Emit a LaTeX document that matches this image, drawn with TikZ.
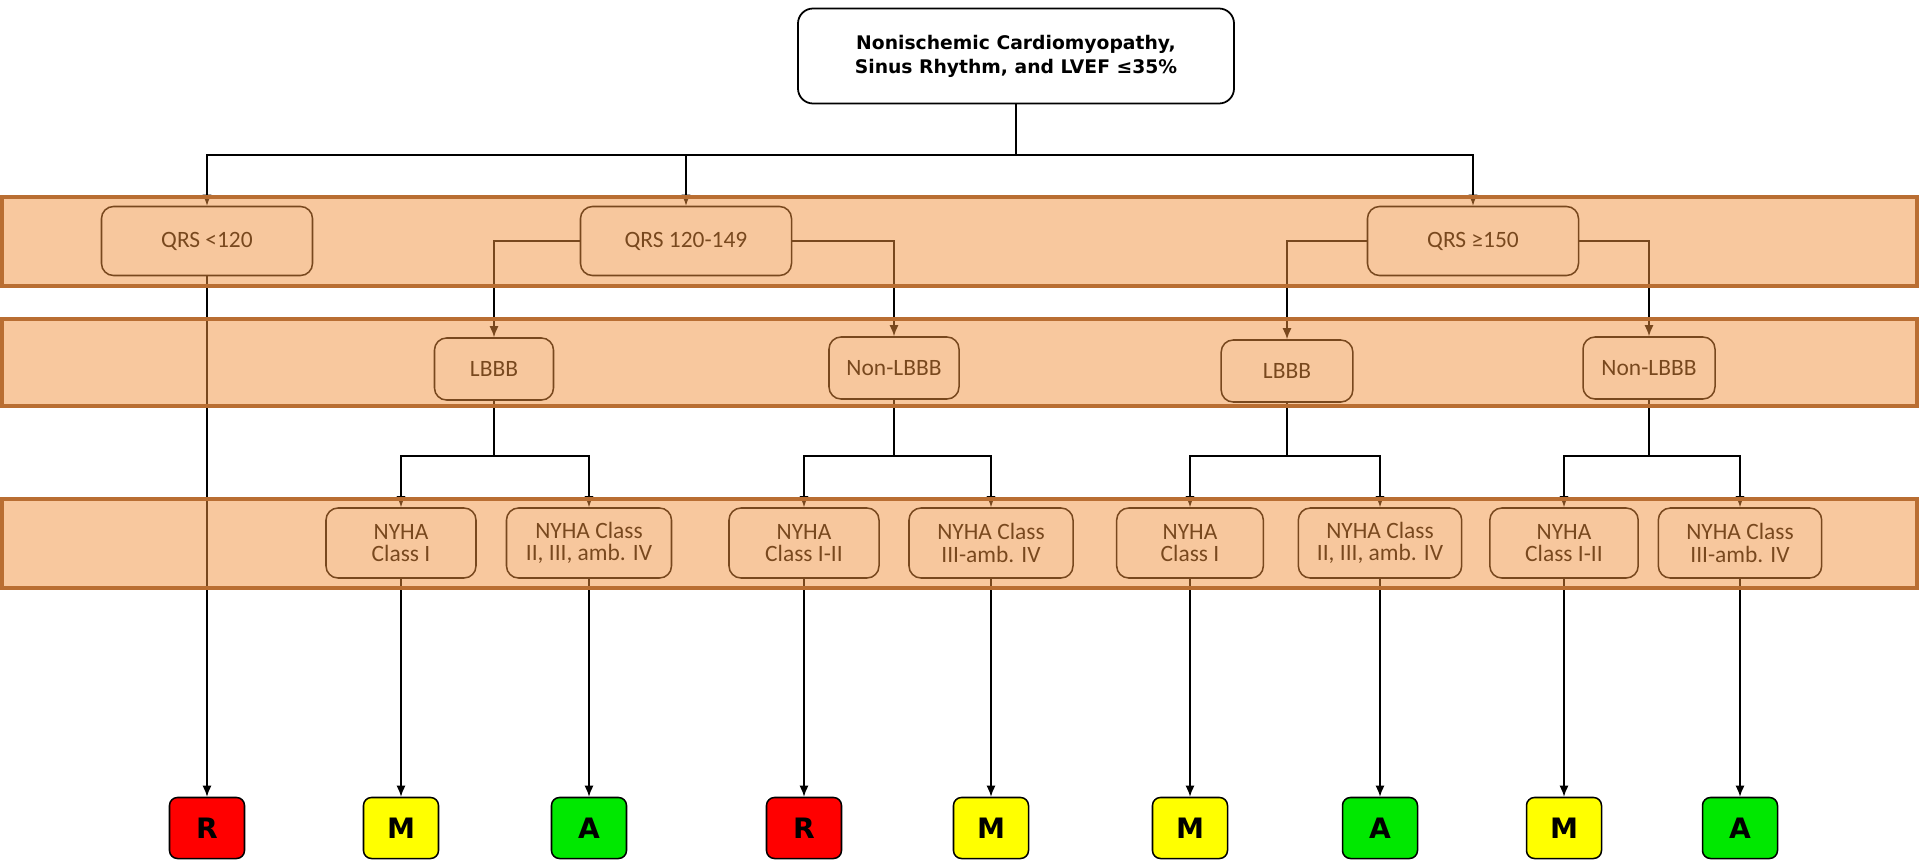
\documentclass[tikz,border=0pt]{standalone}
\usepackage{fontspec}
\newfontfamily\headfont{DejaVu Sans}
\newfontfamily\boxfont{Carlito}
\usetikzlibrary{calc}
\usetikzlibrary{arrows.meta}

\definecolor{bandfill}{RGB}{241,145,61}
\definecolor{bandline}{RGB}{185,110,50}
\definecolor{resred}{RGB}{255,0,0}
\definecolor{resyellow}{RGB}{255,255,0}
\definecolor{resgreen}{RGB}{0,232,0}

\tikzset{
  topbox/.style={draw=black, line width=1.5pt, rounded corners=0.45cm, fill=white,
    minimum width=13.08cm, minimum height=2.85cm, align=center,
    font=\headfont\bfseries\fontsize{16}{20.5}\selectfont},
  stepnode/.style={draw=black, line width=1.3pt, rounded corners=0.36cm, fill=white,
    align=center, font=\boxfont\fontsize{20}{19}\selectfont},
  resbox/.style={draw=black, line width=1.3pt, rounded corners=0.24cm,
    minimum width=2.25cm, minimum height=1.83cm,
    font=\headfont\bfseries\fontsize{24}{26}\selectfont},
  link/.style={black, line width=1.3pt},
  arr/.style={link, -{Latex[length=0.33cm,width=0.27cm]}},
  band/.style={fill=bandfill, fill opacity=0.5, draw=bandline, line width=0.12cm}
}

\begin{document}
\begin{tikzpicture}[x=0.03cm, y=-0.03cm]

\useasboundingbox (0,0) rectangle (1920,861);

\node[topbox] (top) at (1016,56) {Nonischemic Cardiomyopathy,\\Sinus Rhythm, and LVEF ≤35\%};

\node[stepnode, minimum width=6.33cm, minimum height=2.07cm] (q1) at (207,241) {QRS <120};
\node[stepnode, minimum width=6.33cm, minimum height=2.07cm] (q2) at (686,241) {QRS 120-149};
\node[stepnode, minimum width=6.33cm, minimum height=2.07cm] (q3) at (1473,241) {QRS ≥150};

\node[stepnode, minimum width=3.57cm, minimum height=1.86cm] (lb1) at (494,369) {LBBB};
\node[stepnode, minimum width=3.9cm, minimum height=1.86cm] (nl1) at (894,368) {Non-LBBB};
\node[stepnode, minimum width=3.95cm, minimum height=1.86cm] (lb2) at (1287,371) {LBBB};
\node[stepnode, minimum width=3.96cm, minimum height=1.86cm] (nl2) at (1649,368) {Non-LBBB};

\node[stepnode, minimum width=4.5cm, minimum height=2.1cm] (n1) at (401,543) {NYHA\\Class I};
\node[stepnode, minimum width=4.95cm, minimum height=2.1cm] (n2) at (589,543) {NYHA Class\\II, III, amb. IV};
\node[stepnode, minimum width=4.5cm, minimum height=2.1cm] (n3) at (804,543) {NYHA\\Class I-II};
\node[stepnode, minimum width=4.92cm, minimum height=2.1cm] (n4) at (991,543) {NYHA Class\\III-amb. IV};
\node[stepnode, minimum width=4.4cm, minimum height=2.1cm] (n5) at (1190,543) {NYHA\\Class I};
\node[stepnode, minimum width=4.9cm, minimum height=2.1cm] (n6) at (1380,543) {NYHA Class\\II, III, amb. IV};
\node[stepnode, minimum width=4.45cm, minimum height=2.1cm] (n7) at (1564,543) {NYHA\\Class I-II};
\node[stepnode, minimum width=4.9cm, minimum height=2.1cm] (n8) at (1740,543) {NYHA Class\\III-amb. IV};

\node[resbox, fill=resred] (r1) at (207,828) {R};
\node[resbox, fill=resyellow] (r2) at (401,828) {M};
\node[resbox, fill=resgreen] (r3) at (589,828) {A};
\node[resbox, fill=resred] (r4) at (804,828) {R};
\node[resbox, fill=resyellow] (r5) at (991,828) {M};
\node[resbox, fill=resyellow] (r6) at (1190,828) {M};
\node[resbox, fill=resgreen] (r7) at (1380,828) {A};
\node[resbox, fill=resyellow] (r8) at (1564,828) {M};
\node[resbox, fill=resgreen] (r9) at (1740,828) {A};

\coordinate (split) at (1016,155);
\coordinate (s1) at (494,456);
\coordinate (s2) at (894,456);
\coordinate (s3) at (1287,456);
\coordinate (s4) at (1649,456);

\draw[link] (top.south) -- (split);
\draw[arr] (split) -| (q1.north);
\draw[arr] (split) -| (q2.north);
\draw[arr] (split) -| (q3.north);

\draw[arr] (q2.west) -| (lb1.north);
\draw[arr] (q2.east) -| (nl1.north);
\draw[arr] (q3.west) -| (lb2.north);
\draw[arr] (q3.east) -| (nl2.north);

\draw[link] (lb1.south) -- (s1);
\draw[link] (nl1.south) -- (s2);
\draw[link] (lb2.south) -- (s3);
\draw[link] (nl2.south) -- (s4);
\draw[arr] (s1) -| (n1.north);
\draw[arr] (s1) -| (n2.north);
\draw[arr] (s2) -| (n3.north);
\draw[arr] (s2) -| (n4.north);
\draw[arr] (s3) -| (n5.north);
\draw[arr] (s3) -| (n6.north);
\draw[arr] (s4) -| (n7.north);
\draw[arr] (s4) -| (n8.north);

\draw[arr] (q1.south) -- (r1.north);
\draw[arr] (n1.south) -- (r2.north);
\draw[arr] (n2.south) -- (r3.north);
\draw[arr] (n3.south) -- (r4.north);
\draw[arr] (n4.south) -- (r5.north);
\draw[arr] (n5.south) -- (r6.north);
\draw[arr] (n6.south) -- (r7.north);
\draw[arr] (n7.south) -- (r8.north);
\draw[arr] (n8.south) -- (r9.north);

\draw[band] (2,197) rectangle (1917,286);
\draw[band] (2,319) rectangle (1917,406);
\draw[band] (2,499) rectangle (1917,588);

\end{tikzpicture}
\end{document}
